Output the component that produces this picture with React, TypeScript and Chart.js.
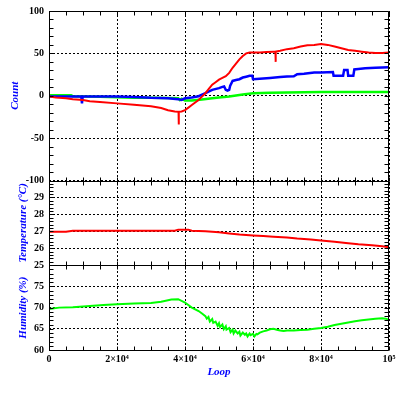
import React, { useEffect, useRef } from 'react';
import { Chart, registerables } from 'chart.js';

Chart.register(...registerables);

// Loop values below are in thousands of loops
const LOOP_UNIT = 1000;

const xTickLabels = ['0', '2×10⁴', '4×10⁴', '6×10⁴', '8×10⁴', '10⁵'];

// Count panel – red series
const redLoop = [
  0, 2, 5, 7, 10, 12, 15, 20, 25, 30,
  33, 35, 37, 38.1, 38.15, 38.2, 39, 40, 41, 42,
  43, 44, 45, 46, 47, 48, 49, 50, 51, 52,
  53, 54, 55, 56, 57, 58, 59, 60, 62, 64,
  66, 66.6, 66.65, 66.7, 68, 70, 72, 74, 76, 78,
  80, 82, 84, 86, 88, 90, 92, 94, 96, 98, 100,
];
const redCount = [
  -1, -2, -3, -4, -5, -6.5, -7.5, -9, -10.5, -12.5,
  -14.5, -17, -18.5, -19, -34, -19, -18.5, -17, -14, -11,
  -8, -5, -1, 3, 8, 13, 16, 19, 21, 23,
  27, 33, 38, 43, 47, 50, 51, 51, 51, 51.5,
  52, 52, 40, 52, 53, 55, 56, 58, 59.5, 60,
  61, 60, 58, 56, 54, 53, 52, 51, 50.5, 50.5, 51,
];

// Count panel – blue series
const blueLoop = [
  0, 5, 9.5, 9.7, 9.9, 12, 20, 25, 30, 35,
  38, 39, 40, 42, 44, 46, 48, 50, 51, 51.5,
  52, 52.5, 53, 53.3, 54, 55, 56, 57, 58, 59,
  59.8, 60, 62, 65, 68, 70, 72, 73, 75, 78,
  80, 83.5, 83.7, 86.5, 86.8, 87.8, 88, 89.5, 89.8, 91,
  93, 96, 100,
];
const blueCount = [
  -0.8, -0.8, -1, -9, -1, -1, -1, -1.5, -2.5, -3,
  -4, -5, -3, -2, -0.5, 3, 7, 9, 10.5, 11,
  7, 6, 7, 12, 17.5, 18.5, 19.5, 21.5, 22.5, 23.5,
  23.5, 19.5, 20, 21, 22, 22.7, 23, 25.5, 26, 27.5,
  27.5, 28, 23.5, 23.5, 30.5, 30.5, 23.5, 23.5, 31, 31.5,
  32.5, 33, 33.5,
];

// Count panel – green series
const greenLoop = [
  0, 6.5, 7, 15, 20, 25, 30, 35, 38, 38.5,
  39, 40, 42, 45, 48, 50, 53, 57, 60, 65,
  70, 75, 80, 90, 100,
];
const greenCount = [
  0.5, 0.5, -0.5, -1.2, -1.8, -2.3, -2.5, -2.7, -3, -5,
  -3.5, -5.5, -5.5, -4.5, -3, -2, -1, 1.5, 3, 3.5,
  3.8, 4.2, 4.3, 4.3, 4.3,
];

// Temperature panel
const tempLoop = [
  0, 5, 7, 10, 20, 30, 37, 38, 41, 42,
  46, 50, 53, 56, 60, 63, 66, 70, 73, 77,
  80, 84, 88, 91, 95, 98, 100,
];
const temperature = [
  26.98, 26.98, 27.04, 27.04, 27.04, 27.04, 27.04, 27.1, 27.1, 27.04,
  27.0, 26.94, 26.88, 26.82, 26.76, 26.72, 26.68, 26.64, 26.58, 26.52,
  26.46, 26.38, 26.3, 26.24, 26.18, 26.12, 26.06,
];

// Humidity panel
const humLoop = [
  0, 3, 7, 12, 16, 20, 25, 30, 33, 36,
  38, 40, 42, 44, 45, 46, 46.4, 46.9, 47.3, 48,
  48.3, 49, 49.6, 50, 50.3, 51, 51.4, 52, 52.2, 53,
  53.4, 54, 54.3, 54.8, 55.5, 56, 56.3, 57, 57.6, 58,
  58.4, 59, 59.3, 60, 60.4, 61, 61.3, 62, 63, 64,
  65, 66, 67, 68, 69, 70, 72, 74, 76, 78,
  80, 82, 84, 86, 88, 90, 92, 94, 96, 98,
  99, 100,
];
const humidity = [
  69.7, 70.0, 70.1, 70.4, 70.6, 70.8, 71.0, 71.1, 71.4, 71.9,
  72.0, 71.2, 70.0, 69.2, 68.6, 68.0, 67.4, 67.8, 66.7, 67.3,
  66.4, 66.7, 65.7, 66.3, 65.4, 66.0, 64.9, 65.6, 64.8, 65.2,
  64.2, 64.8, 63.9, 64.6, 63.9, 64.3, 63.4, 64.1, 63.6, 63.9,
  63.2, 63.9, 63.5, 63.8, 63.2, 63.8, 63.7, 64.1, 64.4, 64.6,
  64.9, 65.0, 64.8, 64.6, 64.5, 64.6, 64.6, 64.7, 64.8, 65.0,
  65.2, 65.5, 65.9, 66.2, 66.5, 66.8, 67.0, 67.2, 67.4, 67.5,
  67.4, 67.1,
];

const toPoints = (xs: number[], ys: number[]) =>
  xs.map((x, i) => ({ x: x * LOOP_UNIT, y: ys[i] }));

const TICK_FONT = { family: "'Liberation Serif', serif", size: 10, weight: 'bold' as const };
const TITLE_FONT = { family: "'Liberation Serif', serif", size: 11, weight: 'bold' as const, style: 'italic' as const };

const minorSteps: Record<string, number> = { yC: 10, yT: 0.2, yH: 1 };

const framePlugin = {
  id: 'frames',
  afterDatasetsDraw(chart: any) {
    const { ctx, chartArea, scales } = chart;
    const xs = scales.x;
    const left = Math.round(chartArea.left) + 0.5;
    const right = Math.round(chartArea.right) - 0.5;
    ctx.save();
    ctx.strokeStyle = '#000';
    ctx.lineWidth = 1;
    ctx.setLineDash([]);
    for (const id of Object.keys(minorSteps)) {
      const s = scales[id];
      const top = Math.round(s.top) + 0.5;
      const bottom = Math.round(s.bottom) + 0.5;
      ctx.beginPath();
      ctx.rect(left, top, right - left, bottom - top);
      for (let v = 0; v <= 100000; v += 5000) {
        const px = Math.round(xs.getPixelForValue(v)) + 0.5;
        ctx.moveTo(px, top);
        ctx.lineTo(px, top + 4);
        ctx.moveTo(px, bottom);
        ctx.lineTo(px, bottom - 4);
      }
      const step = minorSteps[id];
      const n = Math.round((s.max - s.min) / step);
      for (let k = 0; k <= n; k++) {
        const py = Math.round(s.getPixelForValue(s.min + k * step)) + 0.5;
        ctx.moveTo(left, py);
        ctx.lineTo(left + 4, py);
        ctx.moveTo(right, py);
        ctx.lineTo(right - 4, py);
      }
      ctx.stroke();
    }
    ctx.restore();
  },
};

const yScale = (
  min: number,
  max: number,
  stepSize: number,
  weight: number,
  title: string,
  titlePad: number,
  hideTop: boolean,
) => ({
  type: 'linear' as const,
  position: 'left' as const,
  stack: 'panels',
  stackWeight: weight,
  min,
  max,
  ticks: {
    stepSize,
    padding: 5,
    color: '#000',
    font: TICK_FONT,
    autoSkip: false,
    callback: (v: any) => (hideTop && v === max ? '' : String(v)),
  },
  grid: { color: '#000', lineWidth: 1, drawTicks: false },
  border: { display: false, dash: [2, 2] },
  title: { display: true, text: title, color: '#0000ff', font: TITLE_FONT, padding: { top: titlePad, bottom: 0 } },
  afterFit: (s: any) => {
    s.width = 49;
  },
});

export default function App() {
  const ref = useRef<HTMLCanvasElement>(null);

  useEffect(() => {
    if (!ref.current) return;
    const chart = new Chart(ref.current, {
      type: 'line',
      data: {
        datasets: [
          { data: toPoints(redLoop, redCount), yAxisID: 'yC', borderColor: '#ff0000', borderWidth: 2 },
          { data: toPoints(blueLoop, blueCount), yAxisID: 'yC', borderColor: '#0000ff', borderWidth: 2.5 },
          { data: toPoints(greenLoop, greenCount), yAxisID: 'yC', borderColor: '#00ff00', borderWidth: 2.5 },
          { data: toPoints(tempLoop, temperature), yAxisID: 'yT', borderColor: '#ff0000', borderWidth: 2 },
          { data: toPoints(humLoop, humidity), yAxisID: 'yH', borderColor: '#00ff00', borderWidth: 2 },
        ].map((d) => ({ ...d, pointRadius: 0, fill: false, tension: 0 })),
      },
      options: {
        animation: false,
        responsive: false,
        maintainAspectRatio: false,
        layout: { padding: { top: 11, right: 10, left: 0, bottom: 0 } },
        plugins: { legend: { display: false }, tooltip: { enabled: false } },
        scales: {
          x: {
            type: 'linear',
            position: 'bottom',
            min: 0,
            max: 100000,
            ticks: {
              stepSize: 20000,
              padding: 3,
              color: '#000',
              font: TICK_FONT,
              maxRotation: 0,
              autoSkip: false,
              callback: (v: any) => xTickLabels[Math.round(Number(v) / 20000)] ?? '',
            },
            grid: { color: '#000', lineWidth: 1, drawTicks: false },
            border: { display: false, dash: [2, 2] },
            title: { display: true, text: 'Loop', color: '#0000ff', font: TITLE_FONT, padding: { top: 0, bottom: 20 } },
            afterFit: (s: any) => {
              s.height = 49;
            },
          },
          yH: yScale(60, 80, 5, 1, 'Humidity (%)', 17, true),
          yT: yScale(25, 30, 1, 1, 'Temperature (°C)', 17, true),
          yC: yScale(-100, 100, 50, 2, 'Count', 9, false),
        },
      } as any,
      plugins: [framePlugin],
    });
    return () => chart.destroy();
  }, []);

  return (
    <div style={{ position: 'fixed', left: 0, top: 0, width: 399, height: 399, background: '#fff' }}>
      <canvas ref={ref} width={399} height={399} style={{ display: 'block' }} />
    </div>
  );
}
